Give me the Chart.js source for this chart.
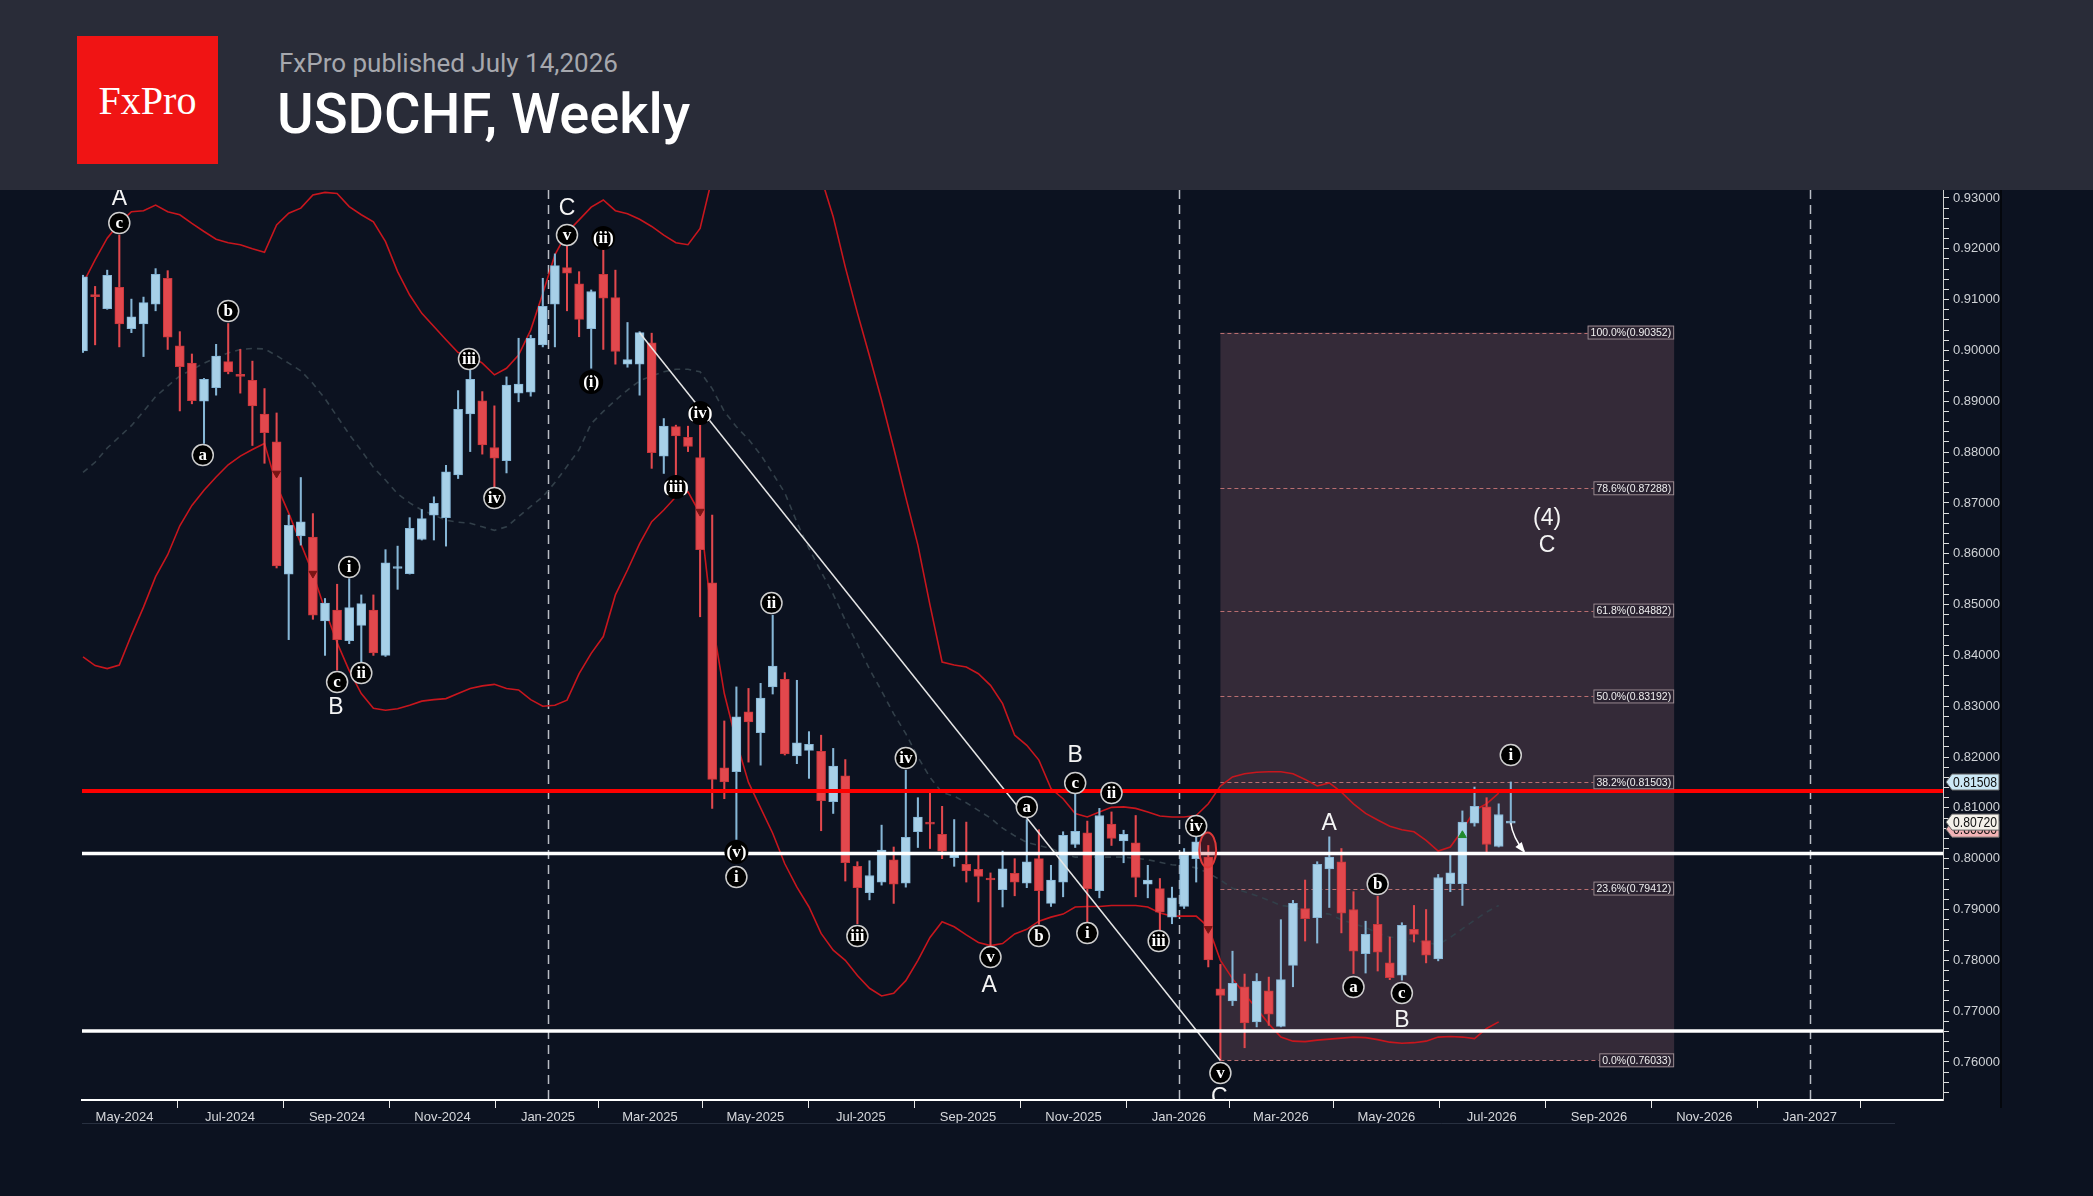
<!DOCTYPE html>
<html><head><meta charset="utf-8">
<script src="https://cdn.jsdelivr.net/npm/chart.js@4.4.1/dist/chart.umd.min.js"></script>
<style>
html,body{margin:0;padding:0;background:#0c1220;width:2093px;height:1196px;overflow:hidden;}
#hdr{position:absolute;left:0;top:0;width:2093px;height:190px;background:#292c38;}
#logo{position:absolute;left:77px;top:36px;width:141px;height:128px;background:#f01414;color:#fff;font-family:'Liberation Serif','DejaVu Serif',serif;font-size:40px;display:flex;align-items:center;justify-content:center;}
#pub{position:absolute;left:279px;top:50px;font-family:Roboto,sans-serif;font-size:26px;color:#a6a8ae;line-height:1;white-space:nowrap;}
#ttl{position:absolute;left:277px;top:86px;font-family:Roboto,sans-serif;font-size:56px;color:#fff;font-weight:500;line-height:1;white-space:nowrap;}
#wrap{position:absolute;left:0;top:190px;width:2093px;height:1006px;}
</style></head>
<body>
<div id="hdr"><div id="logo">FxPro</div><div id="pub">FxPro published July 14,2026</div><div id="ttl">USDCHF, Weekly</div></div>
<div id="wrap"><canvas id="c"></canvas></div>
<script>
// ---------------- DATA ----------------
const firstWeek = '2024-04-07'; // week index 0
const opens = [0.8999,0.9110,0.9082,0.9124,0.9043,0.9052,0.9091,0.9142,0.9009,0.8975,0.8900,0.8927,0.8978,0.8952,0.8941,0.8875,0.8820,0.8560,0.8635,0.8633,0.8468,0.8489,0.8429,0.8459,0.8489,0.8400,0.8571,0.8561,0.8628,0.8676,0.8671,0.8755,0.8875,0.8901,0.8809,0.8783,0.8916,0.8918,0.9011,0.9091,0.9163,0.9131,0.9043,0.9150,0.9104,0.8973,0.8973,0.9015,0.8792,0.8850,0.8829,0.8789,0.8543,0.8179,0.8171,0.8289,0.8248,0.8338,0.8353,0.8202,0.8213,0.8211,0.8112,0.8163,0.7985,0.7933,0.7954,0.7998,0.7952,0.8053,0.8070,0.8048,0.8002,0.7989,0.7979,0.7960,0.7939,0.7971,0.7952,0.8000,0.7912,0.7954,0.8028,0.8051,0.7937,0.8068,0.8035,0.8031,0.7950,0.7941,0.7885,0.7906,0.8000,0.8003,0.7744,0.7720,0.7748,0.7679,0.7740,0.7670,0.7790,0.7902,0.7884,0.7980,0.7994,0.7900,0.7813,0.7871,0.7795,0.7771,0.7861,0.7839,0.7803,0.7951,0.7951,0.8070,0.8102,0.8024,0.8070];
const highs = [0.9148,0.9126,0.9158,0.9227,0.9101,0.9105,0.9161,0.9157,0.9037,0.8993,0.8945,0.9012,0.9053,0.9002,0.8979,0.8925,0.8877,0.8676,0.8750,0.8679,0.8512,0.8540,0.8551,0.8519,0.8519,0.8608,0.8615,0.8671,0.8687,0.8712,0.8774,0.8921,0.8961,0.8919,0.8891,0.8948,0.9024,0.9030,0.9142,0.9190,0.9208,0.9155,0.9119,0.9199,0.9158,0.9055,0.9037,0.9034,0.8866,0.8853,0.8851,0.8856,0.8676,0.8271,0.8338,0.8335,0.8345,0.8479,0.8366,0.8351,0.8250,0.8243,0.8217,0.8195,0.7994,0.7996,0.8066,0.8023,0.8174,0.8120,0.8129,0.8103,0.8077,0.8072,0.8007,0.7972,0.8015,0.8000,0.8077,0.8057,0.7987,0.8053,0.8131,0.8074,0.8099,0.8092,0.8056,0.8085,0.7987,0.7961,0.7944,0.8020,0.8043,0.8026,0.7792,0.7818,0.7773,0.7774,0.7767,0.7880,0.7918,0.7958,0.7994,0.8043,0.8020,0.7935,0.7877,0.7926,0.7846,0.7874,0.7908,0.7900,0.7969,0.8007,0.8094,0.8141,0.8120,0.8108,0.8151];
const lows = [0.8996,0.9011,0.9081,0.9007,0.9035,0.8988,0.9078,0.9002,0.8881,0.8895,0.8817,0.8912,0.8954,0.8916,0.8813,0.8778,0.8572,0.8431,0.8617,0.8471,0.8400,0.8371,0.8423,0.8387,0.8400,0.8398,0.8530,0.8560,0.8627,0.8627,0.8615,0.8748,0.8801,0.8796,0.8732,0.8759,0.8899,0.8910,0.9007,0.9007,0.9078,0.9027,0.8965,0.9002,0.8973,0.8967,0.8912,0.8768,0.8758,0.8755,0.8801,0.8476,0.8099,0.8118,0.8038,0.8190,0.8184,0.8324,0.8204,0.8187,0.8158,0.8055,0.8089,0.7956,0.7872,0.7919,0.7948,0.7912,0.7944,0.8022,0.8020,0.8000,0.7985,0.7954,0.7915,0.7826,0.7905,0.7927,0.7943,0.7871,0.7906,0.7925,0.8022,0.7876,0.7923,0.8026,0.7992,0.7925,0.7923,0.7859,0.7872,0.7902,0.7954,0.7787,0.7603,0.7711,0.7628,0.7669,0.7672,0.7669,0.7748,0.7838,0.7834,0.7904,0.7854,0.7774,0.7775,0.7779,0.7762,0.7761,0.7836,0.7795,0.7799,0.7935,0.7908,0.8064,0.8011,0.8023,0.8068];
const closes = [0.9145,0.9106,0.9148,0.9052,0.9066,0.9094,0.9150,0.9026,0.8968,0.8901,0.8943,0.8989,0.8958,0.8949,0.8891,0.8838,0.8576,0.8656,0.8663,0.8479,0.8503,0.8431,0.8494,0.8502,0.8405,0.8582,0.8574,0.8650,0.8669,0.8699,0.8761,0.8884,0.8943,0.8814,0.8788,0.8932,0.8934,0.9024,0.9087,0.9167,0.9152,0.9061,0.9116,0.9103,0.8998,0.8982,0.9035,0.8799,0.8851,0.8832,0.8811,0.8608,0.8156,0.8151,0.8279,0.8269,0.8316,0.8379,0.8206,0.8228,0.8225,0.8114,0.8182,0.7992,0.7943,0.7967,0.8017,0.7950,0.8042,0.8082,0.8068,0.8015,0.8009,0.7976,0.7965,0.7958,0.7980,0.7954,0.7994,0.7937,0.7958,0.8046,0.8054,0.7941,0.8085,0.8040,0.8048,0.7963,0.7958,0.7895,0.7923,0.8007,0.8033,0.7801,0.7731,0.7755,0.7677,0.7759,0.7694,0.7762,0.7912,0.7882,0.7989,0.8003,0.7893,0.7818,0.7851,0.7816,0.7766,0.7869,0.7851,0.7810,0.7963,0.7972,0.8072,0.8103,0.8028,0.8087,0.8072];
const bbUpper = [0.9132,0.9178,0.9221,0.9250,0.9273,0.9275,0.9286,0.9273,0.9267,0.9250,0.9234,0.9219,0.9212,0.9208,0.9200,0.9193,0.9247,0.9270,0.9280,0.9306,0.9311,0.9309,0.9283,0.9267,0.9253,0.9214,0.9155,0.9109,0.9073,0.9047,0.9021,0.8996,0.8991,0.8975,0.8952,0.8965,0.8991,0.9040,0.9112,0.9188,0.9232,0.9257,0.9282,0.9296,0.9275,0.9269,0.9258,0.9244,0.9227,0.9212,0.9208,0.9240,0.9340,0.9450,0.9520,0.9560,0.9580,0.9560,0.9500,0.9430,0.9380,0.9340,0.9263,0.9164,0.9074,0.8989,0.8902,0.8808,0.8711,0.8617,0.8499,0.8387,0.8381,0.8377,0.8364,0.8341,0.8305,0.8243,0.8223,0.8194,0.8138,0.8118,0.8089,0.8082,0.8092,0.8101,0.8102,0.8099,0.8092,0.8084,0.8082,0.8082,0.8085,0.8108,0.8143,0.8161,0.8167,0.8170,0.8171,0.8171,0.8167,0.8156,0.8143,0.8149,0.8131,0.8108,0.8089,0.8076,0.8064,0.8057,0.8053,0.8036,0.8015,0.8023,0.8056,0.8095,0.8108,0.8129];
const bbMiddle = [0.8760,0.8780,0.8808,0.8830,0.8852,0.8880,0.8909,0.8930,0.8950,0.8962,0.8975,0.8986,0.8995,0.9002,0.9004,0.9003,0.8990,0.8975,0.8960,0.8935,0.8905,0.8870,0.8835,0.8803,0.8770,0.8745,0.8718,0.8700,0.8686,0.8676,0.8666,0.8662,0.8660,0.8653,0.8646,0.8653,0.8673,0.8693,0.8712,0.8740,0.8772,0.8805,0.8856,0.8880,0.8902,0.8922,0.8940,0.8950,0.8958,0.8963,0.8963,0.8958,0.8925,0.8880,0.8850,0.8825,0.8795,0.8758,0.8720,0.8662,0.8610,0.8565,0.8520,0.8469,0.8422,0.8373,0.8330,0.8285,0.8246,0.8200,0.8160,0.8130,0.8123,0.8110,0.8095,0.8080,0.8060,0.8045,0.8032,0.8026,0.8020,0.8010,0.8003,0.8003,0.8003,0.8003,0.8003,0.8001,0.7998,0.7993,0.7988,0.7986,0.7982,0.7972,0.7958,0.7942,0.7935,0.7927,0.7918,0.7908,0.7905,0.7898,0.7894,0.7891,0.7880,0.7872,0.7865,0.7853,0.7846,0.7842,0.7839,0.7835,0.7831,0.7845,0.7862,0.7879,0.7895,0.7908];
const bbLower = [0.8397,0.8380,0.8374,0.8381,0.8440,0.8495,0.8555,0.8598,0.8655,0.8695,0.8725,0.8751,0.8775,0.8792,0.8805,0.8817,0.8735,0.8680,0.8620,0.8561,0.8490,0.8425,0.8370,0.8325,0.8296,0.8292,0.8295,0.8302,0.8310,0.8313,0.8315,0.8325,0.8335,0.8340,0.8343,0.8335,0.8332,0.8313,0.8300,0.8302,0.8312,0.8364,0.8404,0.8437,0.8519,0.8568,0.8620,0.8663,0.8686,0.8712,0.8722,0.8679,0.8469,0.8325,0.8230,0.8150,0.8100,0.8050,0.7990,0.7944,0.7905,0.7853,0.7820,0.7800,0.7770,0.7745,0.7730,0.7735,0.7760,0.7800,0.7845,0.7876,0.7866,0.7850,0.7835,0.7829,0.7833,0.7852,0.7861,0.7877,0.7885,0.7891,0.7905,0.7906,0.7906,0.7908,0.7908,0.7908,0.7905,0.7893,0.7887,0.7887,0.7887,0.7866,0.7800,0.7764,0.7734,0.7705,0.7675,0.7649,0.7641,0.7640,0.7643,0.7645,0.7647,0.7649,0.7648,0.7644,0.7639,0.7637,0.7638,0.7641,0.7649,0.7650,0.7649,0.7646,0.7666,0.7679];
const xTickLabels = ['May-2024','Jul-2024','Sep-2024','Nov-2024','Jan-2025','Mar-2025','May-2025','Jul-2025','Sep-2025','Nov-2025','Jan-2026','Mar-2026','May-2026','Jul-2026','Sep-2026','Nov-2026','Jan-2027','Mar-2027'];
const yTickLabels = ['0.76000','0.77000','0.78000','0.79000','0.80000','0.81000','0.82000','0.83000','0.84000','0.85000','0.86000','0.87000','0.88000','0.89000','0.90000','0.91000','0.92000','0.93000'];
const fibPct = ['0.0%','23.6%','38.2%','50.0%','61.8%','78.6%','100.0%'];
const fibPrices = [0.76033,0.79412,0.81503,0.83192,0.84882,0.87288,0.90352];
const fibStartWeek = 94, fibEndWeek = 131.5;
const levelPrices = [0.8133, 0.8010, 0.7661];
const levelColors = ['#ff0000','#ffffff','#ffffff'];
const trendWeeks = [46, 94];
const trendPrices = [0.9035, 0.7603];
const waveWeeks  = [3,3,12,9.9,31.9,34,22,21,23,20.9,40,40,43,42,51,49,56.9,54,54,68,64,78,79,75,74.9,82,82,85,83,88.9,92,94,93.9,103,105,107,109,109,118,121,121];
const wavePrices = [0.9301,0.92508,0.90776,0.87942,0.89832,0.87096,0.85739,0.83476,0.83653,0.82984,0.92803,0.92272,0.92213,0.89379,0.88769,0.87313,0.85030,0.80131,0.79639,0.81980,0.78478,0.81016,0.78478,0.78064,0.77514,0.82039,0.81488,0.81292,0.78537,0.78379,0.80642,0.75782,0.75310,0.80701,0.77474,0.79501,0.77356,0.76824,0.82039,0.86703,0.86172];
const waveTexts  = ['A','c','b','a','iii','iv','i','c','ii','B','C','v','(ii)','(i)','(iv)','(iii)','ii','(v)','i','iv','iii','a','b','v','A','B','c','ii','i','iii','iv','v','C','A','a','b','c','B','i','(4)','C'];
const waveKinds  = ['p','c','c','c','c','c','c','c','c','p','p','c','r','r','r','r','c','r','c','c','c','c','c','c','p','p','c','c','c','c','c','c','p','p','c','c','c','p','c','p','p'];
const downArrowWeeks = [16,19,51,93], downArrowPrices = [0.8758,0.8561,0.8683,0.7862];
const upArrowWeeks = [114], upArrowPrices = [0.8046];
const tagPrices = [0.8058, 0.81508, 0.80720];
const tagTexts = ['0.80580','0.81508','0.80720'];

// -------------- helpers --------------
const DAY = 86400000;
const t0 = Date.parse(firstWeek + 'T00:00:00Z');
const MONTHS = {Jan:0,Feb:1,Mar:2,Apr:3,May:4,Jun:5,Jul:6,Aug:7,Sep:8,Oct:9,Nov:10,Dec:11};
function labelToWeek(l){ const [m,y]=l.split('-'); return (Date.UTC(+y,MONTHS[m],1)-t0)/(7*DAY); }
const xTickPos = xTickLabels.map(labelToWeek);
const yearLines = xTickLabels.filter(l=>l.startsWith('Jan')).map(labelToWeek);
const idx = opens.map((_,i)=>i);
const bull = idx.map(i=>closes[i]>=opens[i]);
const BLUE='#a7d0e8', BLUE_B='#86b6d6', RED='#e2484d', RED_B='#c9363b';
const AXFONT = '"Liberation Sans", Arial, sans-serif';

const overlay = {
  id:'overlay',
  afterLayout(chart){
    const a = chart.chartArea, y = chart.scales.y;
    if (a.top > 0) { a.height += a.top; a.top = 0; y.top = 0; y.height = y.bottom - y.top; y.configure(); }
  },
  beforeDraw(chart){ const c=chart.ctx; c.save(); c.fillStyle='#0c1220'; c.fillRect(0,0,chart.width,chart.height); c.restore(); },
  beforeDatasetsDraw(chart){
    const {ctx, chartArea:a, scales:{x,y}} = chart;
    ctx.save(); ctx.beginPath(); ctx.rect(a.left,a.top,a.right-a.left,a.bottom-a.top); ctx.clip();
    const x0=x.getPixelForValue(fibStartWeek), x1=x.getPixelForValue(fibEndWeek);
    const yT=y.getPixelForValue(fibPrices[fibPrices.length-1]), yB=y.getPixelForValue(fibPrices[0]);
    ctx.fillStyle='#342a38'; ctx.fillRect(x0,yT,x1-x0,yB-yT);
    ctx.strokeStyle='#b96e70'; ctx.lineWidth=1; ctx.setLineDash([4,3]);
    fibPrices.forEach(p=>{const yy=Math.round(y.getPixelForValue(p))+0.5; ctx.beginPath(); ctx.moveTo(x0,yy); ctx.lineTo(x1,yy); ctx.stroke();});
    ctx.strokeStyle='#b9bdc4'; ctx.lineWidth=1.5; ctx.setLineDash([9,6]);
    yearLines.forEach(k=>{const xx=Math.round(x.getPixelForValue(k))+0.5; ctx.beginPath(); ctx.moveTo(xx,a.top); ctx.lineTo(xx,a.bottom); ctx.stroke();});
    ctx.restore();
  },
  afterDatasetsDraw(chart){
    const {ctx, chartArea:a, scales:{x,y}} = chart;
    ctx.save(); ctx.beginPath(); ctx.rect(a.left,a.top,a.right-a.left,a.bottom-a.top); ctx.clip();
    levelPrices.forEach((p,i)=>{const yy=y.getPixelForValue(p); ctx.strokeStyle=levelColors[i]; ctx.lineWidth=i===0?4:3.5; ctx.beginPath(); ctx.moveTo(a.left,yy); ctx.lineTo(a.right,yy); ctx.stroke();});
    const x1=x.getPixelForValue(fibEndWeek);
    ctx.font='10.5px '+AXFONT;
    ctx.textBaseline='middle'; ctx.textAlign='right';
    fibPrices.forEach((p,i)=>{
      const t=fibPct[i]+'('+p.toFixed(5)+')'; const w=ctx.measureText(t).width; const yy=y.getPixelForValue(p);
      ctx.fillStyle='#2a2230'; ctx.fillRect(x1-w-6,yy-7,w+5,14);
      ctx.strokeStyle='#9a8a90'; ctx.lineWidth=1; ctx.setLineDash([]); ctx.strokeRect(x1-w-6+0.5,yy-6.5,w+5,13);
      ctx.fillStyle='#f0f0f0'; ctx.fillText(t,x1-3,yy+0.5);
    });
    ctx.setLineDash([]);
    const ex=x.getPixelForValue(92.95), ey=y.getPixelForValue(0.8017);
    ctx.beginPath(); ctx.ellipse(ex,ey,8.5,17.5,0,0,Math.PI*2); ctx.fillStyle='rgba(200,40,40,0.25)'; ctx.fill(); ctx.strokeStyle='#e03838'; ctx.lineWidth=2; ctx.stroke();
    const ax0=x.getPixelForValue(118), ay0=y.getPixelForValue(0.8070), ax1=x.getPixelForValue(119.1), ay1=y.getPixelForValue(0.8014);
    ctx.strokeStyle='#ffffff'; ctx.fillStyle='#ffffff'; ctx.lineWidth=1.5;
    ctx.beginPath(); ctx.moveTo(ax0,ay0); ctx.quadraticCurveTo(ax0+2,ay0+14,ax1,ay1); ctx.stroke();
    const ang=Math.atan2(ay1-(ay0+14),ax1-(ax0+2));
    ctx.beginPath(); ctx.moveTo(ax1+2*Math.cos(ang),ay1+2*Math.sin(ang));
    ctx.lineTo(ax1-9*Math.cos(ang)+4*Math.sin(ang), ay1-9*Math.sin(ang)-4*Math.cos(ang));
    ctx.lineTo(ax1-9*Math.cos(ang)-4*Math.sin(ang), ay1-9*Math.sin(ang)+4*Math.cos(ang));
    ctx.closePath(); ctx.fill();
    ctx.textAlign='center'; ctx.textBaseline='middle';
    waveTexts.forEach((t,i)=>{
      const px=x.getPixelForValue(waveWeeks[i]), py=y.getPixelForValue(wavePrices[i]); const k=waveKinds[i];
      if(k==='p'){
        ctx.font='23px '+AXFONT; ctx.fillStyle='#f4f4f4'; ctx.fillText(t,px,py+1);
      } else {
        const r = k==='c'?10.5:12;
        ctx.beginPath(); ctx.arc(px,py,r,0,Math.PI*2); ctx.fillStyle='#000'; ctx.fill();
        if(k==='c'){ ctx.strokeStyle='#cfcfcf'; ctx.lineWidth=1.5; ctx.stroke(); }
        ctx.font='bold 17px "Liberation Serif", "DejaVu Serif", serif';
        const w=ctx.measureText(t).width; const maxW = k==='c'?16:26;
        ctx.save(); ctx.translate(px,py+1); if(w>maxW) ctx.scale(maxW/w,1);
        ctx.fillStyle='#ffffff'; ctx.fillText(t,0,0); ctx.restore();
      }
    });
    ctx.restore();
  },
  afterDraw(chart){
    const {ctx, chartArea:a, scales:{y}} = chart;
    ctx.save();
    // thin frame lines of the terminal layout
    ctx.strokeStyle='#283040'; ctx.lineWidth=1;
    ctx.beginPath(); ctx.moveTo(a.left,a.bottom+23.5); ctx.lineTo(1895,a.bottom+23.5); ctx.stroke();
    ctx.strokeStyle='#04070d'; ctx.lineWidth=2;
    ctx.beginPath(); ctx.moveTo(2001,0); ctx.lineTo(2001,a.bottom+8); ctx.stroke();
    const fills=['#f3b3b6','#cce8f6','#f4f1ea'];
    ctx.font='14px '+AXFONT; ctx.textBaseline='middle'; ctx.textAlign='left';
    tagPrices.forEach((p,i)=>{
      const yy=y.getPixelForValue(p); const xl=a.right+3, xr=a.right+56, h=16;
      ctx.beginPath(); ctx.moveTo(xl,yy); ctx.lineTo(xl+6,yy-h/2); ctx.lineTo(xr,yy-h/2); ctx.lineTo(xr,yy+h/2); ctx.lineTo(xl+6,yy+h/2); ctx.closePath();
      ctx.fillStyle=fills[i]; ctx.fill(); ctx.strokeStyle='#666'; ctx.lineWidth=1; ctx.stroke();
      const w=ctx.measureText(tagTexts[i]).width, avail=xr-xl-9;
      ctx.save(); ctx.translate(xl+7,yy+1); if(w>avail) ctx.scale(avail/w,1);
      ctx.fillStyle='#111'; ctx.fillText(tagTexts[i],0,0); ctx.restore();
    });
    ctx.restore();
  }
};

const wickData = idx.map(i=>({x:i, y:[lows[i], highs[i]]}));
const bodyData = idx.map(i=>({x:i, y:[opens[i], closes[i]]}));

new Chart(document.getElementById('c'), {
  type:'bar',
  data:{datasets:[
    {type:'line', data:bbUpper.map((v,i)=>({x:i,y:v})), borderColor:'#c8161d', borderWidth:1.6, pointRadius:0, tension:0, order:6},
    {type:'line', data:bbLower.map((v,i)=>({x:i,y:v})), borderColor:'#c8161d', borderWidth:1.6, pointRadius:0, tension:0, order:6},
    {type:'line', data:bbMiddle.map((v,i)=>({x:i,y:v})), borderColor:'#323f49', borderWidth:1.6, borderDash:[6,5], pointRadius:0, tension:0, order:7},
    {type:'bar', data:wickData, grouped:false, barThickness:1.4, backgroundColor:idx.map(i=>bull[i]?BLUE_B:RED), borderWidth:0, order:4},
    {type:'bar', data:bodyData, grouped:false, barThickness:9, minBarLength:2, backgroundColor:idx.map(i=>bull[i]?BLUE:RED), borderColor:idx.map(i=>bull[i]?BLUE_B:RED_B), borderWidth:1, borderSkipped:false, order:3},
    {type:'scatter', data:downArrowWeeks.map((k,i)=>({x:k,y:downArrowPrices[i]})), pointStyle:'triangle', rotation:180, pointRadius:4.5, backgroundColor:'#7a1414', borderColor:'#7a1414', order:2},
    {type:'scatter', data:upArrowWeeks.map((k,i)=>({x:k,y:upArrowPrices[i]})), pointStyle:'triangle', rotation:0, pointRadius:4.5, backgroundColor:'#1f8a2c', borderColor:'#1f8a2c', order:2},
    {type:'line', data:trendWeeks.map((k,i)=>({x:k,y:trendPrices[i]})), borderColor:'#e6e6e6', borderWidth:1.5, pointRadius:0, order:1}
  ]},
  options:{
    responsive:true, maintainAspectRatio:false, animation:false, devicePixelRatio:1,
    layout:{padding:{left:82,right:0,top:0,bottom:0}},
    plugins:{legend:{display:false}, tooltip:{enabled:false}},
    scales:{
      x:{type:'linear', min:-0.083, max:153.72, offset:false,
        afterFit(s){ s.height=96; s.paddingLeft=0; s.paddingRight=0; },
        afterBuildTicks(s){ s.ticks = xTickPos.map(v=>({value:v})); },
        ticks:{autoSkip:false, maxRotation:0, minRotation:0, color:'#d6d8dc', padding:2,
          font:{family:AXFONT, size:13},
          callback:(v,i)=> i===xTickLabels.length-1 ? '' : xTickLabels[i]},
        grid:{drawOnChartArea:false, color:'#e8e8e8', tickLength:8, lineWidth:1},
        border:{color:'#ffffff', width:2}
      },
      y:{position:'right', min:0.75252, max:0.93157,
        afterFit(s){ s.width=150; s.paddingTop=0; s.paddingBottom=0; },
        afterBuildTicks(s){ const t=[]; for(let i=377;i<=465;i++) t.push({value:i*0.002}); s.ticks=t; },
        ticks:{autoSkip:false, color:'#cfd2d6', padding:4,
          font:{family:AXFONT, size:13},
          callback:(v)=>{ const l=yTickLabels.find(s=>Math.abs(parseFloat(s)-v)<1e-7); return l||''; }},
        grid:{drawOnChartArea:false, color:'#e0e0e0', tickLength:6, lineWidth:1},
        border:{color:'#d0d0d0', width:1}
      }
    }
  },
  plugins:[overlay]
});
</script>
</body></html>
